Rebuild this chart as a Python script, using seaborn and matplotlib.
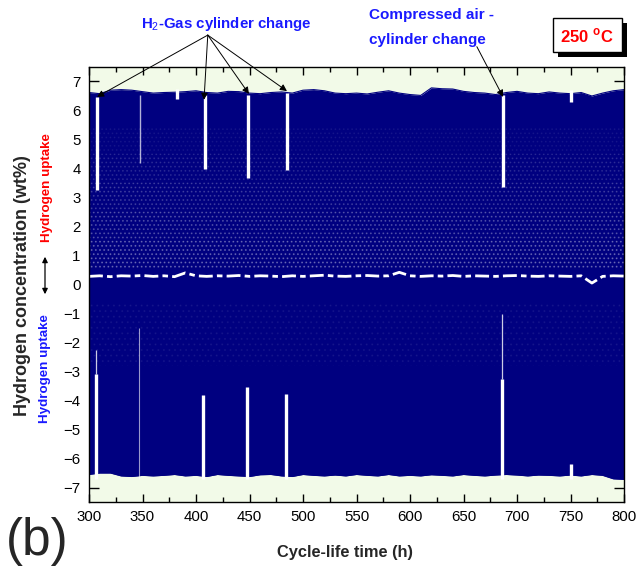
import numpy as np
import pandas as pd
import matplotlib
matplotlib.use("Agg")
import matplotlib.pyplot as plt
import seaborn as sns
from matplotlib.patches import Rectangle
from matplotlib.ticker import MultipleLocator

# ---------------- data ----------------
time_h = list(range(300, 801, 10))
upper_env = [6.62, 6.58, 6.70, 6.72, 6.70, 6.65, 6.60, 6.62, 6.63, 6.65,
             6.68, 6.62, 6.60, 6.66, 6.65, 6.60, 6.58, 6.62, 6.64, 6.60,
             6.70, 6.72, 6.68, 6.60, 6.58, 6.60, 6.57, 6.63, 6.68, 6.60,
             6.55, 6.52, 6.78, 6.75, 6.74, 6.66, 6.62, 6.60, 6.55, 6.62,
             6.66, 6.60, 6.58, 6.64, 6.60, 6.58, 6.62, 6.50, 6.60, 6.68, 6.72]
lower_env = [-6.55, -6.50, -6.50, -6.60, -6.62, -6.58, -6.60, -6.58, -6.55, -6.60,
             -6.58, -6.62, -6.55, -6.58, -6.60, -6.62, -6.56, -6.55, -6.60, -6.62,
             -6.55, -6.58, -6.60, -6.57, -6.60, -6.55, -6.58, -6.60, -6.55, -6.60,
             -6.58, -6.60, -6.56, -6.58, -6.60, -6.55, -6.58, -6.60, -6.57, -6.55,
             -6.57, -6.60, -6.57, -6.58, -6.60, -6.57, -6.60, -6.55, -6.58, -6.70, -6.72]
zero_band = [0.28, 0.30, 0.27, 0.30, 0.29, 0.31, 0.28, 0.30, 0.27, 0.40,
             0.30, 0.28, 0.30, 0.29, 0.31, 0.28, 0.30, 0.29, 0.27, 0.30,
             0.28, 0.30, 0.32, 0.29, 0.28, 0.30, 0.31, 0.29, 0.30, 0.42,
             0.30, 0.28, 0.30, 0.29, 0.31, 0.28, 0.30, 0.29, 0.28, 0.30,
             0.31, 0.29, 0.28, 0.30, 0.29, 0.28, 0.30, 0.05, 0.28, 0.30, 0.29]

# cylinder-change gaps (white streaks)
top_gap_x = [307.5, 347.5, 382.0, 408.0, 449.0, 485.5, 687.0, 750.5]
top_gap_lo = [3.25, 4.20, 6.40, 4.00, 3.67, 3.95, 3.37, 6.30]
top_gap_hi = [6.45, 6.55, 6.75, 6.55, 6.55, 6.60, 6.55, 6.70]
bot_gap_x = [307.0, 346.5, 406.5, 447.7, 484.0, 686.0, 750.5]
bot_gap_lo = [-6.70, -6.70, -6.70, -6.70, -6.70, -6.70, -6.70]
bot_gap_hi = [-3.10, -1.50, -3.80, -3.53, -3.78, -3.26, -6.20]
bot_gap_thin_x = [307.0, 686.0]
bot_gap_thin_lo = [-3.10, -3.26]
bot_gap_thin_hi = [-2.25, -1.00]

# white cycle-texture bands: (low, high, strength)
tex_lo = [0.55, 1.5, 2.5, 3.5, 4.5]
tex_hi = [1.5, 2.5, 3.5, 4.5, 5.4]
tex_alpha = [0.30, 0.24, 0.18, 0.12, 0.06]

# annotation targets
h2_targets_x = [307.5, 407.5, 449.5, 485.0]
h2_targets_y = [6.47, 6.37, 6.57, 6.67]
air_target = (687.0, 6.47)

x_ticks = list(range(300, 801, 50))
y_ticks = list(range(-7, 8, 1))

df = pd.DataFrame({"t": time_h, "up": upper_env, "lo": lower_env, "z": zero_band})

# ---------------- style ----------------
sns.set_theme(style="ticks")
plt.rcParams["font.family"] = ["Liberation Sans", "DejaVu Sans"]
plt.rcParams["mathtext.fontset"] = "custom"
plt.rcParams["mathtext.rm"] = "Liberation Sans"
plt.rcParams["mathtext.bf"] = "Liberation Sans:bold"
plt.rcParams["hatch.linewidth"] = 0.8

NAVY = "#000080"
BG = "#f2fae8"
W, H = 637, 571

fig = plt.figure(figsize=(W / 100, H / 100), dpi=100)
fig.patch.set_facecolor("white")
ax = fig.add_axes([89 / W, 1 - 502 / H, (624 - 89) / W, (502 - 67) / H])
ax.set_facecolor(BG)

# dense cycling band
ax.fill_between(df["t"], df["lo"], df["up"], color=NAVY, linewidth=0, zorder=2)
sns.lineplot(data=df, x="t", y="up", color=NAVY, lw=0.8, ax=ax, zorder=3)
sns.lineplot(data=df, x="t", y="lo", color=NAVY, lw=0.8, ax=ax, zorder=3)

# texture of individual cycles (white dotted streaks), fading upwards
for lo, hi, a in zip(tex_lo, tex_hi, tex_alpha):
    ax.fill_between(df["t"], lo, hi, facecolor="none",
                    edgecolor=(1, 1, 1, a), hatch="....", linewidth=0, zorder=3)
ax.fill_between(df["t"], -2.8, -0.6, facecolor="none",
                edgecolor=(1, 1, 1, 0.05), hatch="...", linewidth=0, zorder=3)

# white band near zero
sns.lineplot(data=df, x="t", y="z", color="white", lw=2.0, ax=ax, zorder=4)
ax.lines[-1].set_dashes((5, 1.5, 2, 1.5))

# gaps
for x, lo, hi in zip(top_gap_x, top_gap_lo, top_gap_hi):
    ax.vlines(x, lo, hi, color="white", lw=(1.0 if x == 347.5 else 2.4), zorder=5,
              alpha=(0.7 if x == 347.5 else 1.0))
for x, lo, hi in zip(bot_gap_x, bot_gap_lo, bot_gap_hi):
    ax.vlines(x, lo, hi, color="white", lw=(0.8 if x == 346.5 else 2.4), zorder=5,
              alpha=(0.6 if x == 346.5 else 1.0))
for x, lo, hi in zip(bot_gap_thin_x, bot_gap_thin_lo, bot_gap_thin_hi):
    ax.vlines(x, lo, hi, color="white", lw=0.9, zorder=5, alpha=0.8)

ax.set_xlim(300, 800)
ax.set_ylim(-7.5, 7.5)
ax.set_xticks(x_ticks)
ax.set_yticks(y_ticks)
ax.xaxis.set_minor_locator(MultipleLocator(25))
ax.tick_params(axis="both", which="both", direction="in", top=True, right=True,
               labelsize=10.8, colors="black", pad=6)
ax.tick_params(which="major", length=6, width=1.0)
ax.tick_params(which="minor", length=3.5, width=1.0)
ax.tick_params(axis="y", which="major", length=7)
for s in ax.spines.values():
    s.set_color("black")
    s.set_linewidth(1.0)
    s.set_zorder(6)
ax.set_xlabel("")
ax.set_ylabel("")

# axis titles
fig.text(345 / W, 1 - 552 / H, "Cycle-life time (h)", ha="center", va="center",
         fontsize=11.8, fontweight="bold")
fig.text(23 / W, 1 - 286 / H, "Hydrogen concentration (wt%)", ha="center", va="center",
         rotation=90, fontsize=13, fontweight="bold")
fig.text(47 / W, 1 - 188 / H, "Hydrogen uptake", ha="center", va="center",
         rotation=90, fontsize=9.6, fontweight="bold", color="red")
fig.text(45 / W, 1 - 369 / H, "Hydrogen uptake", ha="center", va="center",
         rotation=90, fontsize=9.6, fontweight="bold", color="#1a1aff")
fig.add_artist(matplotlib.patches.FancyArrowPatch(
    (45 / W, 1 - 254 / H), (45 / W, 1 - 297 / H), transform=fig.transFigure,
    arrowstyle="<|-|>", mutation_scale=8, color="black", lw=0.9))

# panel label
fig.text(37 / W, 1 - 542 / H, "(b)", ha="center", va="center", fontsize=37)

# annotations
BLUE = "#1a1aff"
fig.text(226 / W, 1 - 24 / H, "H$_2$-Gas cylinder change", ha="center", va="center",
         fontsize=10.8, fontweight="bold", color=BLUE)
h2_origin = (411.0, 8.6)
for tx, ty in zip(h2_targets_x, h2_targets_y):
    ax.annotate("", xy=(tx, ty), xytext=h2_origin, annotation_clip=False,
                arrowprops=dict(arrowstyle="-|>", color="black", lw=0.7,
                                mutation_scale=10, shrinkA=0, shrinkB=0), zorder=7)
fig.text(369 / W, 1 - 15 / H, "Compressed air -", ha="left", va="center",
         fontsize=11, fontweight="bold", color=BLUE)
fig.text(369 / W, 1 - 40 / H, "cylinder change", ha="left", va="center",
         fontsize=11, fontweight="bold", color=BLUE)
ax.annotate("", xy=air_target, xytext=(662.5, 8.2), annotation_clip=False,
            arrowprops=dict(arrowstyle="-|>", color="black", lw=0.7,
                            mutation_scale=10, shrinkA=0, shrinkB=0), zorder=7)

# 250 °C box with shadow
fig.add_artist(Rectangle((558 / W, 1 - 57 / H), 69 / W, 34 / H, transform=fig.transFigure,
                         facecolor="black", edgecolor="black", lw=0))
fig.add_artist(Rectangle((553 / W, 1 - 52 / H), 69 / W, 34 / H, transform=fig.transFigure,
                         facecolor="white", edgecolor="black", lw=1.0))
fig.text(587 / W, 1 - 36 / H, r"250 $^{\mathbf{o}}$C", ha="center", va="center",
         fontsize=12, fontweight="bold", color="red")

fig.savefig("out.png", dpi=100)
